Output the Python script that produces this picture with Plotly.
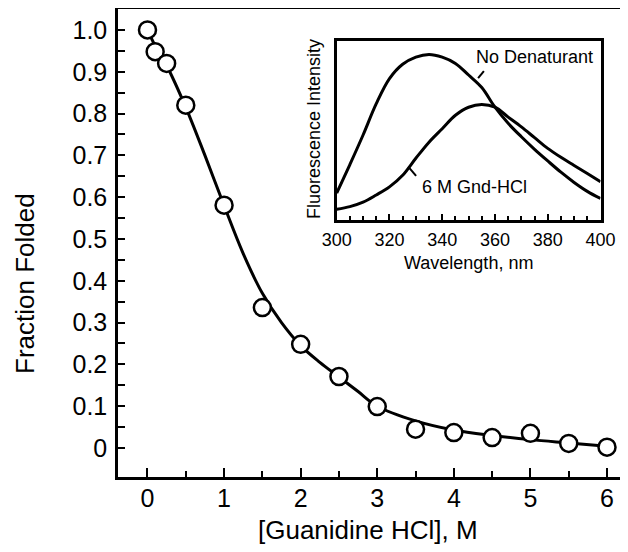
import plotly.graph_objects as go

# ---------------- data ----------------
gdn_conc = [0, 0.1, 0.25, 0.5, 1.0, 1.5, 2.0, 2.5, 3.0, 3.5, 4.0, 4.5, 5.0, 5.5, 6.0]
fraction_folded = [1.0, 0.948, 0.92, 0.82, 0.581, 0.336, 0.248, 0.171, 0.099, 0.045, 0.037, 0.025, 0.035, 0.011, 0.002]

fit_conc = [0, 0.1, 0.25, 0.5, 0.75, 1.0, 1.25, 1.5, 1.75, 2.0, 2.25, 2.5, 2.75, 3.0, 3.5, 4.0, 4.5, 5.0, 5.5, 6.0]
fit_fraction = [1.0, 0.962, 0.915, 0.815, 0.70, 0.58, 0.465, 0.37, 0.30, 0.245, 0.205, 0.17, 0.135, 0.10,
                0.065, 0.043, 0.03, 0.02, 0.012, 0.004]

wavelength = [300, 305, 310, 315, 320, 325, 330, 335, 340, 345, 350, 355, 360, 365, 370, 375, 380, 385, 390, 395, 400]
intensity_native = [0.15, 0.31, 0.475, 0.65, 0.79, 0.87, 0.91, 0.925, 0.91, 0.875, 0.81, 0.74, 0.63, 0.54, 0.465,
                    0.395, 0.33, 0.267, 0.21, 0.16, 0.12]
intensity_denatured = [0.06, 0.075, 0.10, 0.14, 0.185, 0.25, 0.345, 0.435, 0.51, 0.585, 0.63, 0.645, 0.63, 0.575,
                       0.52, 0.46, 0.40, 0.35, 0.305, 0.26, 0.214]

y_tickvals = [0, 0.1, 0.2, 0.3, 0.4, 0.5, 0.6, 0.7, 0.8, 0.9, 1.0]
y_ticktext = ["0", "0.1", "0.2", "0.3", "0.4", "0.5", "0.6", "0.7", "0.8", "0.9", "1.0"]

# ---------------- layout geometry ----------------
# the page body has an 8 px margin, so the figure is 8 px smaller than the window
OFF = 8
W, H = 628 - OFF, 552 - OFF
L, R, T, B = 118 - OFF, 0, 1, 75
PW, PH = W - L - R, H - T - B
FONT = "Arial, Liberation Sans, sans-serif"


def px_x(px):
    # window pixel -> paper fraction
    return (px - OFF - L) / PW


def px_y(py):
    return (H - B - (py - OFF)) / PH


fig = go.Figure()

# main fit line
fig.add_trace(go.Scatter(x=fit_conc, y=fit_fraction, mode="lines", line=dict(color="black", width=3, shape="spline"),
                         xaxis="x", yaxis="y", showlegend=False, hoverinfo="skip"))
# data points
fig.add_trace(go.Scatter(x=gdn_conc, y=fraction_folded, mode="markers",
                         marker=dict(symbol="circle", size=17, color="white", line=dict(color="black", width=2.5)),
                         xaxis="x", yaxis="y", showlegend=False))
# inset spectra
fig.add_trace(go.Scatter(x=wavelength, y=intensity_native, mode="lines",
                         line=dict(color="black", width=3, shape="spline"), xaxis="x2", yaxis="y2", showlegend=False))
fig.add_trace(go.Scatter(x=wavelength, y=intensity_denatured, mode="lines",
                         line=dict(color="black", width=3, shape="spline"), xaxis="x2", yaxis="y2", showlegend=False))

fig.update_layout(
    width=W, height=H,
    margin=dict(l=L, r=R, t=T, b=B, pad=0, autoexpand=False),
    paper_bgcolor="white", plot_bgcolor="white",
    font=dict(family=FONT, color="black"),
    xaxis=dict(
        domain=[0, 1], range=[-0.385, 6.274], tickmode="linear", tick0=0, dtick=1, automargin=False,
        showline=True, linecolor="black", linewidth=2.5, mirror=True,
        ticks="inside", ticklen=9, tickwidth=2, tickcolor="black",
        minor=dict(tickvals=[0.5, 1.5, 2.5, 3.5, 4.5, 5.5], ticks="inside", ticklen=6, tickwidth=2, tickcolor="black"),
        showgrid=False, zeroline=False, tickfont=dict(size=25, family=FONT), ticklabelstandoff=-3,
    ),
    yaxis=dict(
        domain=[0, 1], range=[-0.0694, 1.0502], tickvals=y_tickvals, ticktext=y_ticktext, automargin=False,
        showline=True, linecolor="black", linewidth=2.5,
        ticks="inside", ticklen=7, tickwidth=2, tickcolor="black",
        minor=dict(tickvals=[0.05, 0.15, 0.25, 0.35, 0.45, 0.55, 0.65, 0.75, 0.85, 0.95],
                   ticks="inside", ticklen=7, tickwidth=2, tickcolor="black"),
        showgrid=False, zeroline=False, tickfont=dict(size=25, family=FONT), ticklabelstandoff=3,
    ),
    xaxis2=dict(
        domain=[px_x(336.7), px_x(600.5)], anchor="y2", range=[300, 400], tickmode="linear", tick0=300, dtick=20,
        automargin=False,
        showline=True, linecolor="black", linewidth=2.5, mirror=True,
        ticks="inside", ticklen=6, tickwidth=2, tickcolor="black",
        minor=dict(dtick=5, tick0=300, ticks="inside", ticklen=4, tickwidth=2, tickcolor="black"),
        showgrid=False, zeroline=False, tickfont=dict(size=18, family=FONT), ticklabelstandoff=2,
    ),
    yaxis2=dict(
        domain=[px_y(220), px_y(41)], anchor="x2", range=[0, 1], automargin=False,
        showline=True, linecolor="black", linewidth=2.5, mirror=True,
        ticks="", showticklabels=False, showgrid=False, zeroline=False,
    ),
)

annotations = [
    dict(text="Fraction Folded", x=px_x(25), y=px_y(284), xref="paper", yref="paper", textangle=-90,
         showarrow=False, font=dict(size=26, family=FONT), xanchor="center", yanchor="middle"),
    dict(text="[Guanidine HCl], M", x=px_x(368), y=px_y(530), xref="paper", yref="paper",
         showarrow=False, font=dict(size=26, family=FONT), xanchor="center", yanchor="middle"),
    dict(text="Fluorescence Intensity", x=px_x(314), y=px_y(129), xref="paper", yref="paper", textangle=-90,
         showarrow=False, font=dict(size=18, family=FONT), xanchor="center", yanchor="middle"),
    dict(text="Wavelength, nm", x=px_x(468), y=px_y(263), xref="paper", yref="paper",
         showarrow=False, font=dict(size=18, family=FONT), xanchor="center", yanchor="middle"),
    dict(text="No Denaturant", x=375.1, y=0.912, xref="x2", yref="y2",
         showarrow=False, font=dict(size=18, family=FONT), xanchor="center", yanchor="middle"),
    dict(text="6 M Gnd-HCl", x=352.4, y=0.186, xref="x2", yref="y2",
         showarrow=False, font=dict(size=18, family=FONT), xanchor="center", yanchor="middle"),
]
fig.update_layout(annotations=annotations)

fig.add_shape(type="line", x0=353.6, y0=0.793, x1=355.8, y1=0.832, xref="x2", yref="y2",
              line=dict(color="black", width=2))
fig.add_shape(type="line", x0=327.1, y0=0.298, x1=330.1, y1=0.246, xref="x2", yref="y2",
              line=dict(color="black", width=2))

fig.write_html("out.html")
